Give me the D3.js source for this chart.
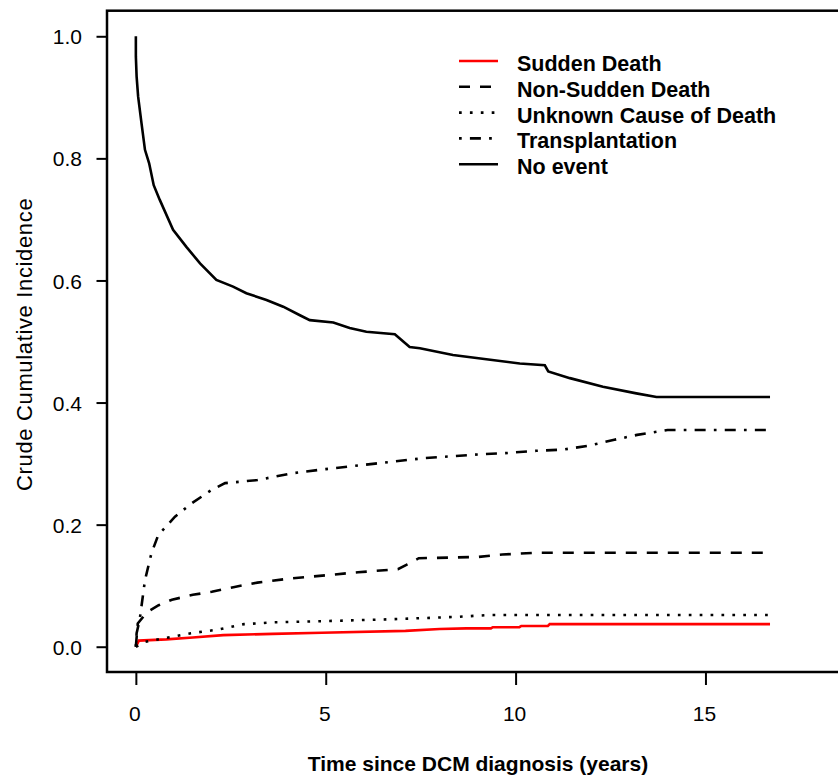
<!DOCTYPE html>
<html>
<head>
<meta charset="utf-8">
<script src="https://cdn.jsdelivr.net/npm/d3@7"></script>
<style>
  body { margin: 0; background: #fff; }
  text { font-family: Arial, "Liberation Sans", sans-serif; fill: #000; }
</style>
</head>
<body>
<div id="my_dataviz"></div>
<script>
// curves (time in years, crude cumulative incidence)
var sdTime = [0, 0.08, 0.8, 1.5, 2.3, 3.6, 4.9, 7.1, 8.0, 8.7, 9.35, 9.4, 10.1, 10.15, 10.85, 10.9, 16.7];
var sdVal  = [0, 0.010, 0.012, 0.015, 0.019, 0.021, 0.023, 0.026, 0.029, 0.030, 0.030, 0.032, 0.032, 0.034, 0.034, 0.037, 0.037];

var nsTime = [0, 0.05, 0.3, 0.6, 0.95, 1.5, 2.0, 2.6, 3.2, 4.1, 5.0, 5.85, 6.9, 7.15, 7.45, 9.0, 9.65, 10.55, 16.7];
var nsVal  = [0, 0.038, 0.057, 0.068, 0.077, 0.085, 0.090, 0.098, 0.105, 0.112, 0.117, 0.122, 0.127, 0.135, 0.145, 0.147, 0.151, 0.154, 0.154];

var unTime = [0, 0.25, 0.75, 1.45, 2.15, 2.85, 3.65, 5.0, 6.7, 8.5, 9.3, 16.7];
var unVal  = [0, 0.008, 0.014, 0.022, 0.028, 0.037, 0.040, 0.042, 0.045, 0.049, 0.052, 0.052];

var trTime = [0, 0.02, 0.1, 0.24, 0.41, 0.59, 1.03, 1.47, 2.0, 2.35, 3.2, 4.1, 5.0, 6.3, 7.6, 9.0, 9.7, 10.55, 11.25, 11.9, 12.6, 13.2, 13.6, 14.0, 16.7];
var trVal  = [0, 0.022, 0.044, 0.109, 0.153, 0.183, 0.213, 0.235, 0.257, 0.268, 0.273, 0.284, 0.291, 0.300, 0.309, 0.315, 0.317, 0.321, 0.323, 0.329, 0.339, 0.347, 0.351, 0.355, 0.355];

var neTime = [0, 0, 0.02, 0.06, 0.15, 0.24, 0.35, 0.47, 0.63, 0.98, 1.33, 1.69, 2.12, 2.56, 2.91, 3.44, 3.88, 4.32, 4.58, 5.2, 5.63, 6.07, 6.82, 7.21, 7.48, 8.35, 9.23, 10.11, 10.77, 10.86, 11.43, 12.3, 13.18, 13.71, 16.7];
var neVal  = [1.0, 0.967, 0.934, 0.901, 0.857, 0.814, 0.792, 0.756, 0.732, 0.683, 0.655, 0.628, 0.601, 0.590, 0.579, 0.568, 0.557, 0.543, 0.535, 0.531, 0.522, 0.516, 0.512, 0.491, 0.489, 0.478, 0.471, 0.464, 0.461, 0.451, 0.440, 0.426, 0.415, 0.409, 0.409];

var seriesNames = ["Sudden Death", "Non-Sudden Death", "Unknown Cause of Death", "Transplantation", "No event"];
var xTicks = [0, 5, 10, 15];
var yTicks = [0, 0.2, 0.4, 0.6, 0.8, 1.0];

// plot box (right side runs off the picture, like the original)
var W = 838, H = 779;
var box = { left: 107, right: 849, top: 10.7, bottom: 672 };

var svg = d3.select("#my_dataviz")
  .append("svg")
  .attr("width", W)
  .attr("height", H);

var x = d3.scaleLinear()
  .domain([-0.76, 18.78])
  .range([box.left, box.right]);

var y = d3.scaleLinear()
  .domain([-0.0414, 1.0419])
  .range([box.bottom, box.top]);

// line styles, R style lty 1..4 at lwd ~2.7
var styles = [
  { color: "#ff0000", dash: null },
  { color: "#000", dash: "11,10" },
  { color: "#000", dash: "2.7,8.2" },
  { color: "#000", dash: "2.7,8.2,11,8.2" },
  { color: "#000", dash: null }
];

var curves = [
  d3.zip(sdTime, sdVal),
  d3.zip(nsTime, nsVal),
  d3.zip(unTime, unVal),
  d3.zip(trTime, trVal),
  d3.zip(neTime, neVal)
];

// box
svg.append("rect")
  .attr("x", box.left)
  .attr("y", box.top)
  .attr("width", box.right - box.left)
  .attr("height", box.bottom - box.top)
  .attr("fill", "none")
  .attr("stroke", "#000")
  .attr("stroke-width", 2.5);

// y axis
var yAxis = svg.append("g")
  .attr("transform", "translate(" + box.left + ",0)")
  .call(d3.axisLeft(y).tickValues(yTicks).tickSize(10.5).tickPadding(14.5).tickFormat(d3.format(".1f")));
yAxis.select(".domain").remove();
yAxis.selectAll("line").attr("stroke", "#000").attr("stroke-width", 2);
yAxis.selectAll("text")
  .attr("dy", "0.36em")
  .style("font-size", "21px")
  .style("font-family", "Arial, 'Liberation Sans', sans-serif")
  .attr("fill", "#000");

// x axis
var xAxis = svg.append("g")
  .attr("transform", "translate(0," + box.bottom + ")")
  .call(d3.axisBottom(x).tickValues(xTicks).tickSize(13));
xAxis.select(".domain").remove();
xAxis.selectAll("line").attr("stroke", "#000").attr("stroke-width", 2);
xAxis.selectAll("text")
  .attr("y", 48.7)
  .attr("dy", null)
  .attr("dx", -1.5)
  .style("font-size", "21px")
  .style("font-family", "Arial, 'Liberation Sans', sans-serif")
  .attr("fill", "#000");

// curves
var line = d3.line()
  .x(function (d) { return x(d[0]); })
  .y(function (d) { return y(d[1]); });

curves.forEach(function (c, i) {
  svg.append("path")
    .datum(c)
    .attr("fill", "none")
    .attr("stroke", styles[i].color)
    .attr("stroke-width", 2.6)
    .attr("stroke-dasharray", styles[i].dash)
    .attr("d", line);
});

// legend
var legend = svg.append("g");
seriesNames.forEach(function (name, i) {
  var ly = 61 + i * 25.8;
  legend.append("line")
    .attr("x1", 459).attr("x2", 498)
    .attr("y1", ly).attr("y2", ly)
    .attr("stroke", styles[i].color)
    .attr("stroke-width", 2.6)
    .attr("stroke-dasharray", styles[i].dash);
  legend.append("text")
    .attr("x", 517)
    .attr("y", ly + 10)
    .style("font-size", "21.5px")
    .style("font-weight", "bold")
    .text(name);
});

// axis titles
svg.append("text")
  .attr("x", (box.left + box.right) / 2)
  .attr("y", 771)
  .style("text-anchor", "middle")
  .style("font-size", "21px")
  .style("font-weight", "bold")
  .text("Time since DCM diagnosis (years)");

svg.append("text")
  .attr("transform", "translate(31.5," + ((box.top + box.bottom) / 2 + 3) + ") rotate(-90)")
  .style("text-anchor", "middle")
  .style("font-size", "22px")
  .style("letter-spacing", "0.65px")
  .text("Crude Cumulative Incidence");
</script>
</body>
</html>
